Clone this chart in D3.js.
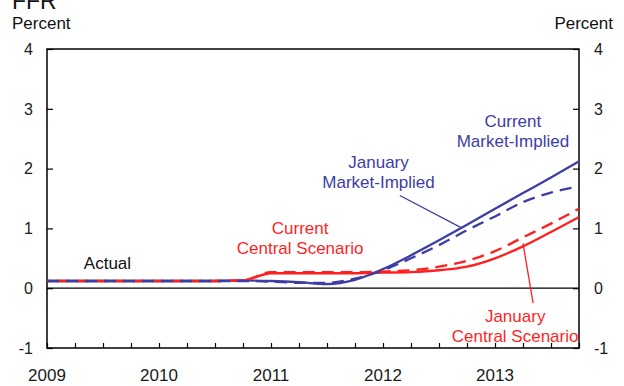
<!DOCTYPE html>
<html>
<head>
<meta charset="utf-8">
<script src="https://cdn.jsdelivr.net/npm/d3@7"></script>
<style>
  body { margin: 0; background: #fff; }
  text { font-family: Arial, "Liberation Sans", sans-serif; }
</style>
</head>
<body>
<div id="chart"></div>
<script>
// quarterly time points (decimal years)
var actualYears = [2009, 2009.25, 2009.5, 2009.75, 2010, 2010.25, 2010.5];
var actualVals  = [0.12, 0.12, 0.12, 0.12, 0.12, 0.12, 0.12];

var fcstYears = [2010.5, 2010.75, 2011, 2011.25, 2011.5, 2011.75, 2012, 2012.25, 2012.5, 2012.75, 2013, 2013.25, 2013.5, 2013.75];
var curMarket = [0.12, 0.13, 0.12, 0.10, 0.07, 0.14, 0.32, 0.55, 0.80, 1.06, 1.33, 1.59, 1.85, 2.12];
var curCentral = [0.12, 0.13, 0.25, 0.25, 0.25, 0.25, 0.26, 0.27, 0.30, 0.36, 0.50, 0.70, 0.94, 1.19];

var janYears = [2009, 2009.25, 2009.5, 2009.75, 2010, 2010.25, 2010.5, 2010.75, 2011, 2011.25, 2011.5, 2011.75, 2012, 2012.25, 2012.5, 2012.75, 2013, 2013.25, 2013.5, 2013.75];
var janMarket = [0.12, 0.12, 0.12, 0.12, 0.12, 0.12, 0.12, 0.12, 0.11, 0.09, 0.09, 0.16, 0.30, 0.50, 0.72, 0.97, 1.20, 1.44, 1.60, 1.70];
var janCentral = [0.12, 0.12, 0.12, 0.12, 0.12, 0.12, 0.12, 0.13, 0.27, 0.27, 0.27, 0.27, 0.28, 0.30, 0.36, 0.46, 0.62, 0.85, 1.08, 1.33];

var yearLabels = [2009, 2010, 2011, 2012, 2013];
var yTicks = [-1, 0, 1, 2, 3, 4];

var blue = '#3d3da6', red = '#ff1f1f';

var W = 624, H = 386;
var margin = {top: 49, right: 45, bottom: 38, left: 47};
var w = W - margin.left - margin.right;
var h = H - margin.top - margin.bottom;

var svg = d3.select('#chart').append('svg')
    .attr('width', W)
    .attr('height', H);

var x = d3.scaleLinear().domain([2009, 2013.75]).range([0, w]);
var y = d3.scaleLinear().domain([-1, 4]).range([h, 0]);

// titles
svg.append('text').attr('x', 12).attr('y', 9).attr('font-size', 23).attr('fill', '#111').text('FFR');
svg.append('text').attr('x', 12).attr('y', 29).attr('font-size', 17).attr('fill', '#111').text('Percent');
svg.append('text').attr('x', 613).attr('y', 29).attr('text-anchor', 'end').attr('font-size', 17).attr('fill', '#111').text('Percent');

var g = svg.append('g').attr('transform', 'translate(' + margin.left + ',' + margin.top + ')');

// zero line
g.append('line').attr('x1', 0).attr('x2', w).attr('y1', y(0)).attr('y2', y(0))
    .attr('stroke', '#000').attr('stroke-width', 1.2);

// axes with inward ticks
var quarterTicks = d3.range(2009, 2013.76, 0.25);
g.append('g').attr('transform', 'translate(0,' + h + ')')
    .call(d3.axisBottom(x).tickValues(quarterTicks).tickSize(-5).tickFormat(''))
    .call(function (s) { s.select('.domain').remove(); s.selectAll('line').attr('stroke-width', 1.2); });
g.append('g')
    .call(d3.axisLeft(y).tickValues(yTicks).tickSize(-6).tickFormat(''))
    .call(function (s) { s.select('.domain').remove(); s.selectAll('line').attr('stroke-width', 1.2); });
g.append('g').attr('transform', 'translate(' + w + ',0)')
    .call(d3.axisRight(y).tickValues(yTicks).tickSize(-6).tickFormat(''))
    .call(function (s) { s.select('.domain').remove(); s.selectAll('line').attr('stroke-width', 1.2); });

// frame
g.append('rect').attr('width', w).attr('height', h)
    .attr('fill', 'none').attr('stroke', '#000').attr('stroke-width', 1.5);

// tick labels
g.selectAll('.ylabL').data(yTicks).enter().append('text')
    .attr('x', -14).attr('y', function (d) { return y(d); }).attr('dy', '0.36em')
    .attr('text-anchor', 'end').attr('font-size', 16).attr('fill', '#1a1a1a')
    .text(function (d) { return d; });
g.selectAll('.ylabR').data(yTicks).enter().append('text')
    .attr('x', w + 15).attr('y', function (d) { return y(d); }).attr('dy', '0.36em')
    .attr('text-anchor', 'start').attr('font-size', 16).attr('fill', '#1a1a1a')
    .text(function (d) { return d; });
g.selectAll('.xlab').data(yearLabels).enter().append('text')
    .attr('x', function (d) { return x(d); }).attr('y', h + 33)
    .attr('text-anchor', 'middle').attr('font-size', 17).attr('fill', '#1a1a1a')
    .text(function (d) { return d; });

var line = d3.line()
    .x(function (d) { return x(d[0]); })
    .y(function (d) { return y(d[1]); })
    .curve(d3.curveMonotoneX);

function draw(xs, vs, color, dash, offset) {
    g.append('path')
        .datum(d3.zip(xs, vs))
        .attr('d', line)
        .attr('fill', 'none')
        .attr('stroke', color)
        .attr('stroke-width', 2.3)
        .attr('stroke-dasharray', dash || null)
        .attr('stroke-dashoffset', offset || 0);
}

draw(actualYears, actualVals, '#000');
draw(fcstYears, curMarket, blue);
draw(fcstYears, curCentral, red);
draw(janYears, janCentral, red, '12,7', 9);
draw(janYears, janMarket, blue, '12,7');

// leader lines
g.append('line')
    .attr('x1', x(2012.15)).attr('y1', y(1.55)).attr('x2', x(2012.71)).attr('y2', y(1.0))
    .attr('stroke', blue).attr('stroke-width', 1.3);
g.append('line')
    .attr('x1', x(2013.25)).attr('y1', y(0.75)).attr('x2', x(2013.34)).attr('y2', y(-0.25))
    .attr('stroke', red).attr('stroke-width', 1.3);

// annotations
function label(px, py, lines, color) {
    var t = g.append('text').attr('x', px).attr('y', py)
        .attr('text-anchor', 'middle').attr('font-size', 17).attr('fill', color);
    lines.forEach(function (s, i) {
        t.append('tspan').attr('x', px).attr('dy', i === 0 ? 0 : 20).text(s);
    });
}
label(x(2009.54), 220, ['Actual'], '#111');
label(x(2011.26), 185, ['Current', 'Central Scenario'], red);
label(x(2011.96), 119, ['January', 'Market-Implied'], blue);
label(x(2013.16), 78, ['Current', 'Market-Implied'], blue);
label(x(2013.18), 273, ['January', 'Central Scenario'], red);
</script>
</body>
</html>
